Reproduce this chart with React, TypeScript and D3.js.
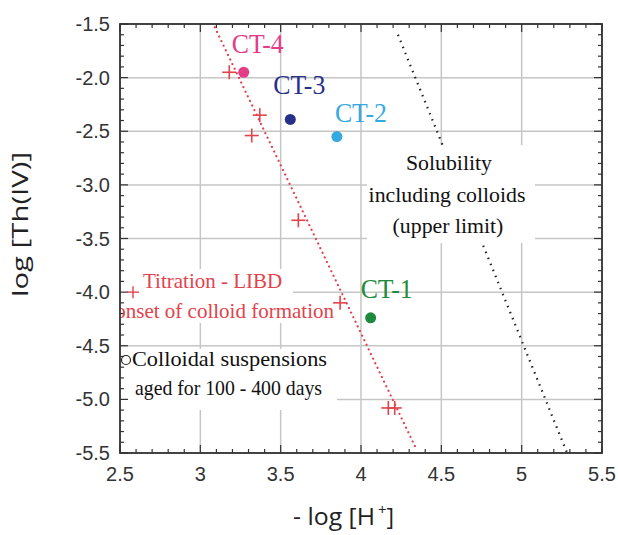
import React from "react";
import * as d3 from "d3";

// colloidal suspensions (CT samples)
const sampleNames = ["CT-1", "CT-2", "CT-3", "CT-4"];
const samplePH = [4.06, 3.85, 3.56, 3.27];
const sampleTh = [-4.24, -2.55, -2.39, -1.95];
const sampleColors = ["#1f8a3c", "#35a9e0", "#263189", "#e23d86"];

// titration - LIBD points
const titrationPH = [3.18, 3.37, 3.32, 3.61, 3.87, 4.17, 4.21];
const titrationTh = [-1.95, -2.35, -2.54, -3.33, -4.1, -5.08, -5.08];

// dotted lines (end points)
const libdLinePH = [3.09, 4.34];
const libdLineTh = [-1.53, -5.45];
const solLinePH = [4.23, 5.28];
const solLineTh = [-1.6, -5.49];

const xTicks = ["2.5", "3", "3.5", "4", "4.5", "5", "5.5"];
const yTicks = ["-1.5", "-2.0", "-2.5", "-3.0", "-3.5", "-4.0", "-4.5", "-5.0", "-5.5"];

const W = 618;
const H = 535;
const left = 120, right = 602, top = 24, bottom = 453;

// label placement relative to each point (px)
const labelOffset = [[-10, -20], [-2, -15], [-17, -25], [-12, -19]];

export default function App() {
  const x = d3.scaleLinear().domain([2.5, 5.5]).range([left, right]);
  const y = d3.scaleLinear().domain([-5.5, -1.5]).range([bottom, top]);
  const line = d3
    .line<[number, number]>()
    .x((d) => x(d[0]))
    .y((d) => y(d[1]));

  const minorX = x.ticks(30);
  const minorY = y.ticks(40);
  const gridColor = "#c6c6c6";
  const frame = "#333";
  const serif = "'Liberation Serif', 'Times New Roman', serif";
  const sans = "'Liberation Sans', Arial, sans-serif";
  const red = "#e3424b";

  // white boxes behind the annotations (they hide the grid)
  const boxes = [
    [367, 145, 535, 243],
    [120, 269, 293, 297],
    [120, 297, 335, 323],
    [120, 349, 337, 410],
  ];

  return (
    <svg
      width={W}
      height={H}
      style={{ position: "absolute", left: 0, top: 0, background: "#fff" }}
    >
      <defs>
        <clipPath id="plot">
          <rect x={left} y={top} width={right - left} height={bottom - top} />
        </clipPath>
      </defs>
      <rect width={W} height={H} fill="#fff" />

      {/* grid */}
      <g stroke={gridColor} strokeWidth={1.5}>
        {xTicks.map((t) => (
          <line key={t} x1={x(+t)} x2={x(+t)} y1={top} y2={bottom} />
        ))}
        {yTicks.map((t) => (
          <line key={t} x1={left} x2={right} y1={y(+t)} y2={y(+t)} />
        ))}
      </g>

      {boxes.map((b, i) => (
        <rect key={i} x={b[0]} y={b[1]} width={b[2] - b[0]} height={b[3] - b[1]} fill="#fff" />
      ))}

      {/* ticks */}
      <g stroke={frame} strokeWidth={1.2}>
        {minorX.map((v, i) => {
          const len = i % 5 === 0 ? 8 : 4;
          return (
            <g key={"x" + i}>
              <line x1={x(v)} x2={x(v)} y1={bottom} y2={bottom - len} />
              <line x1={x(v)} x2={x(v)} y1={top} y2={top + len} />
            </g>
          );
        })}
        {minorY.map((v, i) => {
          const len = i % 5 === 0 ? 8 : 4;
          return (
            <g key={"y" + i}>
              <line x1={left} x2={left + len} y1={y(v)} y2={y(v)} />
              <line x1={right} x2={right - len} y1={y(v)} y2={y(v)} />
            </g>
          );
        })}
      </g>

      {/* dotted lines */}
      <g clipPath="url(#plot)">
        <path
          d={line(libdLinePH.map((v, i) => [v, libdLineTh[i]]) as [number, number][]) || ""}
          fill="none"
          stroke={red}
          strokeWidth={2.2}
          strokeDasharray="0.1 5"
          strokeLinecap="round"
        />
        <path
          d={line(solLinePH.map((v, i) => [v, solLineTh[i]]) as [number, number][]) || ""}
          fill="none"
          stroke="#222"
          strokeWidth={2.2}
          strokeDasharray="1.5 5"
        />
      </g>
      <rect x={367} y={145} width={168} height={98} fill="#fff" />

      {/* titration points */}
      <g stroke={red} strokeWidth={1.6}>
        {titrationPH.map((v, i) => (
          <g key={i} transform={`translate(${x(v)},${y(titrationTh[i])})`}>
            <line x1={-7} x2={7} y1={0} y2={0} />
            <line x1={0} x2={0} y1={-7} y2={7} />
          </g>
        ))}
      </g>

      {/* samples */}
      {sampleNames.map((n, i) => (
        <g key={n}>
          <circle cx={x(samplePH[i])} cy={y(sampleTh[i])} r={5.5} fill={sampleColors[i]} />
          <text
            x={x(samplePH[i]) + labelOffset[i][0]}
            y={y(sampleTh[i]) + labelOffset[i][1]}
            fill={sampleColors[i]}
            fontFamily={serif}
            fontSize={27}
            textLength={52}
            lengthAdjust="spacingAndGlyphs"
          >
            {n}
          </text>
        </g>
      ))}

      {/* legend-like annotations */}
      <g clipPath="url(#plot)" fontFamily={serif} fontSize={21}>
        <g stroke={red} strokeWidth={1.4}>
          <line x1={127} x2={139} y1={y(-4.0)} y2={y(-4.0)} />
          <line x1={133} x2={133} y1={y(-4.0) - 6} y2={y(-4.0) + 6} />
        </g>
        <text x={143} y={288} fill={red}>Titration - LIBD</text>
        <text x={334} y={318} fill={red} textAnchor="end">onset of colloid formation</text>
        <circle cx={126} cy={360} r={4.5} fill="none" stroke="#222" strokeWidth={1.2} />
        <text x={132} y={366} fill="#111" textLength={195} lengthAdjust="spacingAndGlyphs">
          Colloidal suspensions
        </text>
        <text x={135} y={395} fill="#111" textLength={187} lengthAdjust="spacingAndGlyphs">
          aged for 100 - 400 days
        </text>
      </g>

      <g fontFamily={serif} fontSize={21.8} fill="#111" textAnchor="middle">
        <text x={449} y={170}>Solubility</text>
        <text x={447} y={202}>including colloids</text>
        <text x={448} y={233}>(upper limit)</text>
      </g>

      {/* frame */}
      <rect
        x={left}
        y={top}
        width={right - left}
        height={bottom - top}
        fill="none"
        stroke={frame}
        strokeWidth={1.8}
      />

      {/* tick labels */}
      <g fontFamily={sans} fontSize={20} fill="#333">
        {xTicks.map((t) => (
          <text key={t} x={x(+t)} y={481} textAnchor="middle">
            {t}
          </text>
        ))}
        {yTicks.map((t) => (
          <text key={t} x={110} y={y(+t) + 7} textAnchor="end">
            {t}
          </text>
        ))}
      </g>

      {/* axis titles */}
      <text
        transform={`translate(28,224.5) rotate(-90)`}
        x={-72.5}
        fontFamily="'Open Sans', sans-serif"
        fontSize={22}
        fill="#222"
        textLength={145}
        lengthAdjust="spacingAndGlyphs"
      >
        log [Th(IV)]
      </text>
      <text x={293} y={525} fontFamily="'Open Sans', sans-serif" fontSize={23} fill="#222">
        <tspan textLength={82} lengthAdjust="spacingAndGlyphs">- log [H</tspan>
        <tspan dx={3} dy={-10} fontSize={15}>
          +
        </tspan>
        <tspan dy={10}>]</tspan>
      </text>
    </svg>
  );
}
